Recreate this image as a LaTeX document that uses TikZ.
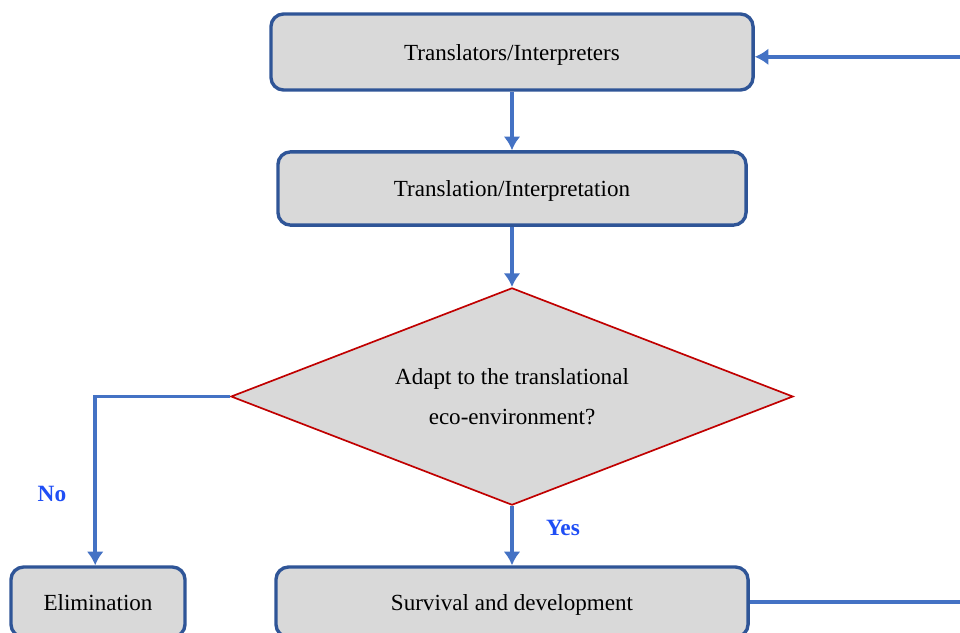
\documentclass[tikz,border=0pt]{standalone}
\usepackage{fontspec}
\setmainfont{Liberation Serif}
\usetikzlibrary{shapes.geometric,arrows.meta}
\definecolor{boxfill}{HTML}{D9D9D9}
\definecolor{boxline}{HTML}{2F5597}
\definecolor{flowblue}{HTML}{4472C4}
\definecolor{decred}{HTML}{C00000}
\definecolor{answer}{HTML}{1F4EF5}
\tikzset{
  stagebox/.style={draw=boxline, line width=2.4pt, fill=boxfill, rounded corners=9pt,
    inner sep=0pt, text depth=0pt, font=\fontsize{16.4}{19}\selectfont},
  decision/.style={diamond, draw=decred, line width=1.2pt, fill=boxfill, inner sep=0pt,
    aspect=2.59, align=center, font=\fontsize{16.4}{28.5}\selectfont},
  flow/.style={draw=flowblue, line width=2.8pt, -{Latex[length=3.4mm,width=4.2mm]}},
  answerlabel/.style={text=answer, font=\fontsize{16.6}{19}\selectfont\bfseries}
}

\begin{document}
\begin{tikzpicture}[x=0.025cm, y=-0.025cm] % {{{
\useasboundingbox (0,0) rectangle (960,632);
\clip (0,0) rectangle (960,632);
% stages
\node[stagebox, minimum width=12.05cm, minimum height=1.9cm] (tr) at (512,52) {Translators/Interpreters};
\node[stagebox, minimum width=11.7cm, minimum height=1.83cm] (ti) at (512,188.5) {Translation/Interpretation};
\node[decision, minimum width=14.05cm, minimum height=5.43cm] (adapt) at (512,396.5) {Adapt to the translational\\eco-environment?};
\node[stagebox, minimum width=4.35cm, minimum height=1.75cm] (elim) at (98,602) {Elimination};
\node[stagebox, minimum width=11.8cm, minimum height=1.75cm] (surv) at (512,602) {Survival and development};
\coordinate (loop) at (985,330);
% connectors
\draw[flow] (tr.south) -- (ti.north);
\draw[flow] (ti.south) -- (adapt.north);
\draw[flow] (adapt.west) -| ([xshift=-0.07cm]elim.north);
\draw[flow] (adapt.south) -- (surv.north);
\draw[flow] (surv.east) -| (loop) |- ([yshift=-0.12cm]tr.east);
% answers
\node[answerlabel] (no) at (52,494) {No};
\node[answerlabel] (yes) at (563,528) {Yes};
\end{tikzpicture} % }}}
\end{document}
